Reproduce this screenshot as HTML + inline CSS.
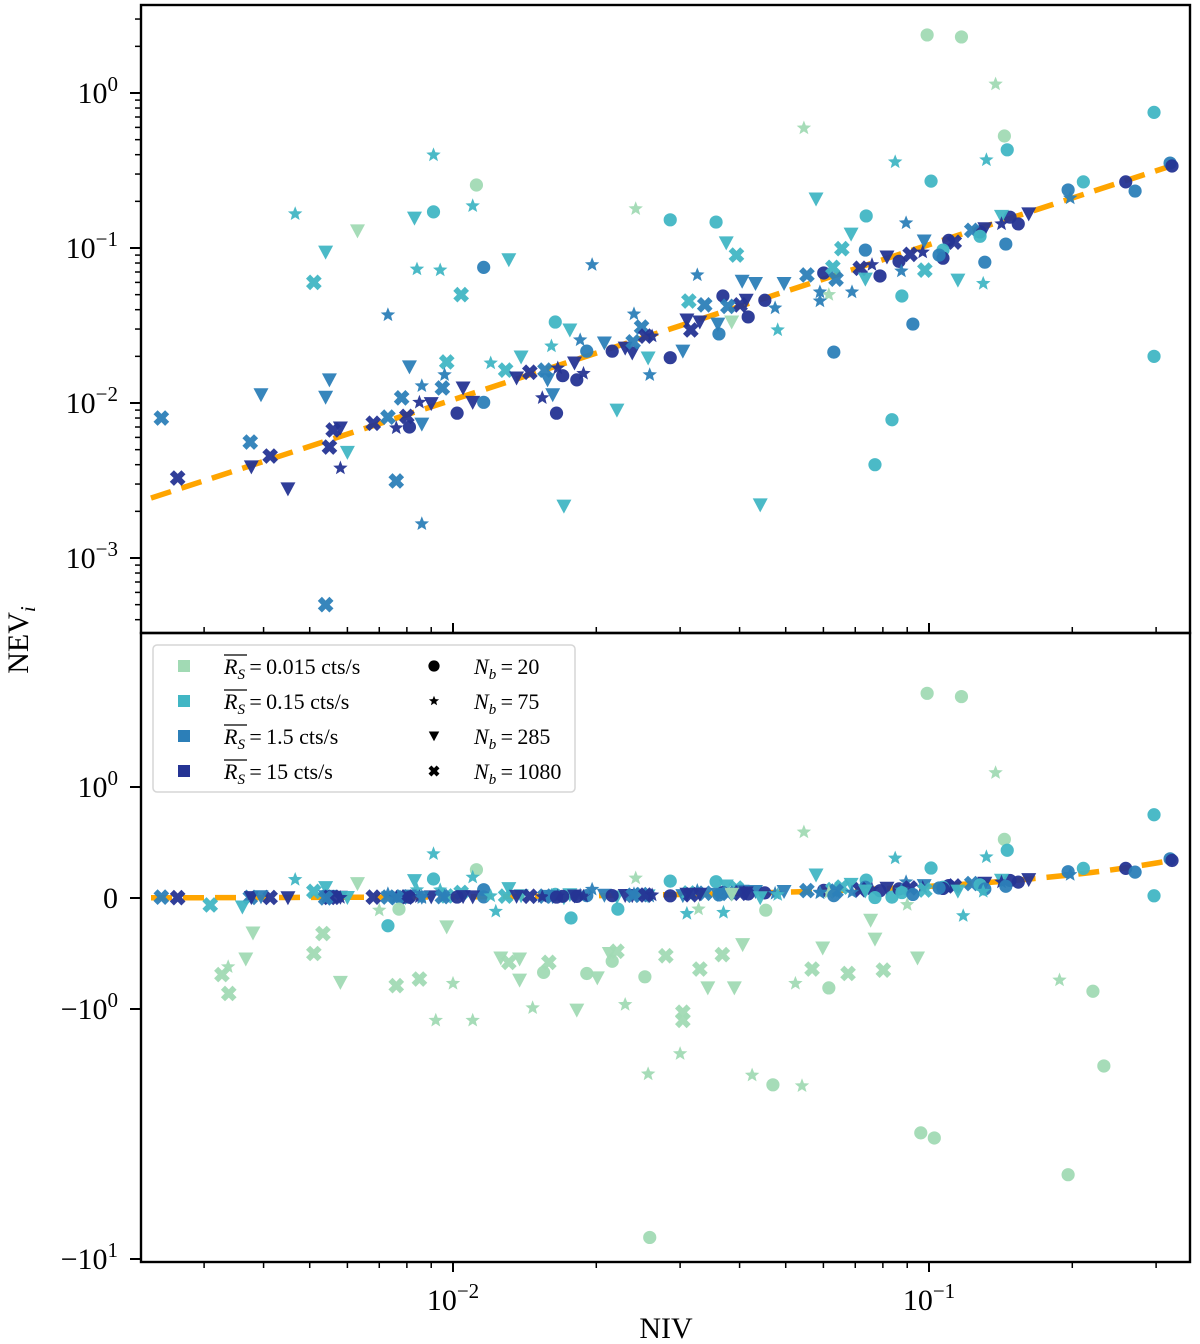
<!DOCTYPE html>
<html><head><meta charset="utf-8"><style>
html,body{margin:0;padding:0;background:#fff;}
svg{display:block;font-family:"Liberation Serif",serif;}
</style></head><body>
<svg id="chart" width="1200" height="1344" viewBox="0 0 1200 1344" xmlns="http://www.w3.org/2000/svg">
<defs>
<clipPath id="clipTop"><rect x="141" y="5" width="1049" height="628"/></clipPath>
<clipPath id="clipBot"><rect x="141" y="633" width="1049" height="629"/></clipPath>
</defs>
<g id="axesLayer"></g>
<g id="topMarks" clip-path="url(#clipTop)"></g>
<g id="botMarks" clip-path="url(#clipBot)"></g>
<g id="frameLayer"></g>
<g id="legendLayer"></g>
</svg>
<script>
// ---- data (NIV, NEV_i, source-rate index, N_b index) ----
const niv = [0.00244,0.00264,0.00375,0.00377,0.00413,0.0045,0.00395,0.00466,0.0054,0.0051,0.0063,0.0083,0.0091,0.0112,0.0110,0.0084,0.0094,0.0116,0.0131,0.0104,0.0073,0.0055,0.0054,0.0097,0.0096,0.0081,0.0086,0.0085,0.0090,0.0078,0.0095,0.0105,0.0110,0.0102,0.0116,0.0120,0.0129,0.0139,0.0073,0.0080,0.0081,0.0076,0.0086,0.0068,0.0056,0.0058,0.0055,0.0060,0.0058,0.0076,0.0086,0.0054,0.0171,0.0221,0.0161,0.0164,0.0176,0.0185,0.0191,0.0208,0.0216,0.0230,0.0238,0.0239,0.0257,0.0286,0.0304,0.0259,0.0136,0.0145,0.0156,0.0166,0.0158,0.0170,0.0182,0.0188,0.0180,0.0154,0.0162,0.0165,0.0196,0.0242,0.0286,0.0357,0.0375,0.0394,0.0579,0.0738,0.0686,0.0656,0.0735,0.0816,0.0326,0.0601,0.0789,0.0554,0.0628,0.0638,0.0717,0.0759,0.0735,0.0405,0.0432,0.0496,0.0369,0.0452,0.0417,0.0413,0.0401,0.0475,0.0616,0.0590,0.0313,0.0338,0.0378,0.0385,0.0362,0.0360,0.0481,0.0240,0.0310,0.0330,0.0316,0.0249,0.0254,0.0262,0.0442,0.0836,0.0770,0.0631,0.0991,0.117,0.138,0.0546,0.297,0.144,0.146,0.0849,0.132,0.101,0.321,0.324,0.211,0.259,0.271,0.196,0.198,0.0895,0.162,0.148,0.154,0.142,0.142,0.131,0.128,0.123,0.128,0.0977,0.110,0.113,0.107,0.107,0.105,0.0865,0.097,0.0913,0.0875,0.098,0.115,0.131,0.145,0.130,0.0689,0.059,0.0877,0.0925,0.297,0.0091,
0.00309,0.00361,0.0038,0.00367,0.00337,0.00327,0.00338,0.00533,0.0051,0.0058,0.0070,0.0077,0.0073,0.0076,0.0085,0.0097,0.0092,0.0110,0.0100,0.0123,0.0126,0.0131,0.0138,0.0138,0.0147,0.0155,0.0159,0.0177,0.0182,0.0191,0.0201,0.0230,0.0213,0.0221,0.0216,0.0222,0.0253,0.0280,0.0257,0.0259,0.0304,0.0304,0.0300,0.0330,0.0343,0.0390,0.0406,0.0368,0.0425,0.0470,0.0541,0.0524,0.0616,0.0568,0.0598,0.0676,0.0754,0.0770,0.0946,0.0802,0.0961,0.1026,0.118,0.188,0.221,0.233,0.196,0.0454,0.0328,0.090,0.031,0.037];
const nev = [0.0080,0.00328,0.0056,0.00387,0.00455,0.00279,0.0113,0.166,0.094,0.060,0.129,0.156,0.171,0.255,0.187,0.073,0.072,0.075,0.084,0.050,0.037,0.0141,0.0109,0.0184,0.0152,0.0171,0.0129,0.0101,0.0099,0.0108,0.0125,0.0125,0.0101,0.0086,0.0101,0.0181,0.0163,0.0198,0.0081,0.0082,0.0070,0.0069,0.0073,0.0074,0.0067,0.0069,0.0052,0.0048,0.0038,0.00314,0.00166,0.0005,0.00216,0.0090,0.0233,0.0333,0.0296,0.0255,0.0216,0.0244,0.0216,0.0226,0.0210,0.0248,0.0195,0.0196,0.0216,0.0152,0.0145,0.0158,0.0163,0.0168,0.0141,0.0150,0.0141,0.0155,0.0181,0.0108,0.0113,0.0086,0.078,0.179,0.152,0.147,0.108,0.090,0.207,0.161,0.123,0.099,0.097,0.0875,0.067,0.069,0.066,0.067,0.075,0.063,0.074,0.078,0.063,0.061,0.059,0.059,0.049,0.046,0.0359,0.046,0.043,0.041,0.050,0.052,0.0455,0.043,0.042,0.0333,0.0279,0.0323,0.0296,0.0375,0.0343,0.0333,0.0296,0.0309,0.027,0.027,0.0022,0.0078,0.0040,0.0213,2.37,2.30,1.14,0.594,0.75,0.528,0.43,0.359,0.37,0.27,0.353,0.338,0.267,0.267,0.233,0.237,0.21,0.145,0.166,0.158,0.143,0.16,0.143,0.133,0.127,0.13,0.119,0.111,0.112,0.109,0.097,0.086,0.090,0.082,0.094,0.091,0.071,0.072,0.062,0.081,0.106,0.059,0.052,0.0455,0.049,0.0323,0.020,0.398,
-0.063,-0.081,-0.315,-0.55,-0.62,-0.69,-0.86,-0.32,-0.50,-0.76,-0.11,-0.10,-0.25,-0.79,-0.73,-0.26,-1.11,-1.11,-0.77,-0.12,-0.54,-0.58,-0.55,-0.74,-0.99,-0.67,-0.58,-0.18,-1.01,-0.68,-0.72,-0.96,-0.50,-0.48,-0.57,-0.10,-0.71,-0.52,-1.82,-8.2,-1.03,-1.11,-1.51,-0.64,-0.81,-0.81,-0.42,-0.51,-1.84,-2.01,-2.03,-0.77,-0.81,-0.64,-0.45,-0.68,-0.20,-0.37,-0.54,-0.65,-3.13,-3.28,-0.16,-0.74,-0.84,-1.69,-4.6,-0.11,-0.10,-0.06,-0.14,-0.13];
const rateIdx = [2,3,2,3,3,3,2,1,1,1,0,1,1,0,1,1,1,2,1,1,2,2,2,1,2,2,2,3,3,2,2,3,3,3,2,1,1,1,2,3,3,3,2,3,3,3,3,1,3,2,2,2,1,1,1,1,1,2,2,2,3,3,3,2,1,3,2,2,3,3,2,3,2,3,3,3,3,3,2,3,2,0,1,1,1,1,1,1,1,1,2,3,2,3,3,2,1,2,3,3,1,2,2,2,3,3,3,3,3,2,0,2,1,2,2,0,2,2,1,2,3,3,3,2,3,3,1,1,1,2,0,0,0,0,1,0,1,1,1,1,2,3,1,3,2,2,2,2,3,3,3,1,3,3,3,2,1,2,3,3,1,3,2,3,3,3,2,1,1,2,2,1,2,2,1,2,1,1,
1,1,0,0,0,0,0,0,0,0,0,0,1,0,0,0,0,0,0,1,0,0,0,0,0,0,0,1,0,0,0,0,0,0,0,1,0,0,0,0,0,0,0,0,0,0,0,0,0,0,0,0,0,0,0,0,0,0,0,0,0,0,1,0,0,0,0,0,0,0,1,1];
const nbIdx = [3,3,3,2,3,2,2,1,2,3,2,2,0,0,1,1,1,0,2,3,1,2,2,3,1,2,1,1,2,3,3,2,2,0,0,1,3,2,3,3,0,1,2,3,3,2,3,2,1,3,1,3,2,2,1,0,2,1,0,2,0,2,2,3,2,0,2,1,2,3,3,1,2,0,0,1,2,1,2,0,1,1,0,0,2,3,2,0,2,3,0,2,1,0,0,3,3,3,3,1,2,2,2,2,0,0,0,2,3,1,1,1,3,3,3,2,0,2,1,1,2,2,3,3,3,1,2,0,0,0,0,0,1,1,0,0,0,1,1,0,0,0,0,0,0,0,1,1,2,0,0,2,1,2,0,3,0,2,0,3,0,0,0,0,1,3,1,3,2,0,0,1,1,1,0,0,0,1,
3,2,2,2,1,3,3,3,3,2,1,0,0,3,3,2,1,1,1,1,2,3,2,2,1,0,3,0,2,0,2,1,2,3,0,0,0,3,1,0,3,3,1,3,2,2,2,3,1,0,1,1,0,3,2,3,2,2,2,3,0,0,1,1,0,0,0,0,1,1,1,1];
const rateLabels = ["0.015","0.15","1.5","15"];
const nbLabels = ["20","75","285","1080"];
const fitSlope = 1.05;
const fitRange = [0.00232, 0.33];
const topTicks = [0, -1, -2, -3];
const xTicks = [-2, -1];
</script>
<script>
const NS = "http://www.w3.org/2000/svg";
const COLORS = ["#a1dab4","#41b6c4","#2c7fb8","#253494"];
const MARKER_NAMES = ["circle","star","triangle","x"];
const L = 141, R = 1190, TT = 5, MID = 633, BB = 1262;
function xs(v){ return 453 + 476*(Math.log10(v)+2); }
function yTop(v){ return 93 - 155*Math.log10(v); }
function yBot(v){
  const a = Math.abs(v);
  if (a <= 1) return 898 - 111*v;
  return 898 - Math.sign(v)*(111 + 250*Math.log10(a));
}
function mk(tag, attrs, parent){
  const e = document.createElementNS(NS, tag);
  for (const k in attrs) e.setAttribute(k, attrs[k]);
  if (parent) parent.appendChild(e);
  return e;
}
function starPts(cx, cy, ro, ri){
  let p = [];
  for (let i=0;i<10;i++){
    const r = i%2===0 ? ro : ri;
    const a = -Math.PI/2 + i*Math.PI/5;
    p.push((cx + r*Math.cos(a)).toFixed(1)+","+(cy + r*Math.sin(a)).toFixed(1));
  }
  return p.join(" ");
}
function xPath(cx, cy, s, w){
  // thick filled X: a plus rotated 45 degrees
  const pts = [[-w,-s],[w,-s],[w,-w],[s,-w],[s,w],[w,w],[w,s],[-w,s],[-w,w],[-s,w],[-s,-w],[-w,-w]];
  const r = Math.SQRT1_2;
  return "M" + pts.map(p => (cx+(p[0]-p[1])*r).toFixed(1)+","+(cy+(p[0]+p[1])*r).toFixed(1)).join("L") + "Z";
}
function drawMarker(g, type, cx, cy, color, scale){
  const s = scale || 1;
  let e;
  if (type === 0) e = mk("circle", {cx:cx, cy:cy, r:6.6*s, fill:color}, g);
  else if (type === 1) e = mk("polygon", {points: starPts(cx, cy, 7.6*s, 3.3*s), fill:color}, g);
  else if (type === 2) e = mk("polygon", {points: `${cx-7.5*s},${cy-6.5*s} ${cx+7.5*s},${cy-6.5*s} ${cx},${cy+7.5*s}`, fill:color}, g);
  else e = mk("path", {d: xPath(cx, cy, 8.2*s, 2.9*s), fill:color}, g);
  return e;
}

const axes = document.getElementById("axesLayer");
const topG = document.getElementById("topMarks");
const botG = document.getElementById("botMarks");
const frame = document.getElementById("frameLayer");
const leg = document.getElementById("legendLayer");

const fitTop = mk("line", {x1:xs(fitRange[0]), y1:yTop(fitSlope*fitRange[0]), x2:xs(fitRange[1]), y2:yTop(fitSlope*fitRange[1]), stroke:"#ffa500", "stroke-width":5.5, "stroke-dasharray":"21 11"}, topG);


let bp = [];
for (let i=0;i<=60;i++){
  const lv = Math.log10(fitRange[0]) + (Math.log10(fitRange[1])-Math.log10(fitRange[0]))*i/60;
  const v = Math.pow(10, lv);
  bp.push(xs(v).toFixed(1)+","+yBot(fitSlope*v).toFixed(1));
}
const fitBot = mk("polyline", {points: bp.join(" "), fill:"none", stroke:"#ffa500", "stroke-width":5.5, "stroke-dasharray":"21 11"}, botG);



for (let i=0;i<niv.length;i++){
  const col = COLORS[rateIdx[i]];
  const cx = xs(niv[i]);
  if (nev[i] > 0){
    const m = drawMarker(topG, nbIdx[i], cx, yTop(nev[i]), col);
    
    
    m.setAttribute('opacity', '0.95');
  }
  const mb = drawMarker(botG, nbIdx[i], cx, yBot(nev[i]), col);
  
  
  mb.setAttribute('opacity', '0.95');
}

const fTop = mk("rect", {x:L, y:TT, width:R-L, height:MID-TT, fill:"none", stroke:"#000", "stroke-width":2.4}, frame);


const fBot = mk("rect", {x:L, y:MID, width:R-L, height:BB-MID, fill:"none", stroke:"#000", "stroke-width":2.4}, frame);



function supLabel(parent, x, y, anchor, base, sup, name){
  const t = mk("text", {x:x, y:y, "text-anchor":anchor, "font-size":30, fill:"#000"}, parent);
  
  
  const a = mk("tspan", {}, t); a.textContent = base;
  if (sup !== null){
    const b = mk("tspan", {"font-size":21, dy:-12}, t); b.textContent = sup;
  }
  return t;
}

for (const d of topTicks){
  const y = yTop(Math.pow(10,d));
  const tk = mk("line", {x1:L-11, x2:L, y1:y, y2:y, stroke:"#000", "stroke-width":2}, axes);
  
  
  supLabel(axes, 118, y+10, "end", "10", d===0 ? "0" : "\u2212"+(-d), 'y-tick-label-top');
}
for (let d=-4; d<=0; d++){
  for (let m=2;m<=9;m++){
    const y = yTop(m*Math.pow(10,d));
    if (y < TT || y > MID) continue;
    const tk = mk("line", {x1:L-6, x2:L, y1:y, y2:y, stroke:"#000", "stroke-width":1.5}, axes);
    
    
  }
}
const botTickVals = [1, 0, -1, -10];
const botTickText = [["10","0"],["0",null],["\u221210","0"],["\u221210","1"]];
botTickVals.forEach((v,i)=>{
  const y = yBot(v);
  const tk = mk("line", {x1:L-11, x2:L, y1:y, y2:y, stroke:"#000", "stroke-width":2}, axes);
  
  
  supLabel(axes, 118, y+10, "end", botTickText[i][0], botTickText[i][1], 'y-tick-label-bottom');
});
for (let d=-3; d<=-1; d++){
  for (let m=1;m<=9;m++){
    const x = xs(m*Math.pow(10,d));
    if (x < L || x > R) continue;
    const len = m===1 ? 10 : 6;
    const t1 = mk("line", {x1:x, x2:x, y1:BB, y2:BB+len, stroke:"#000", "stroke-width":m===1?2:1.5}, axes);
    
    
    const t2 = mk("line", {x1:x, x2:x, y1:MID-len, y2:MID, stroke:"#000", "stroke-width":m===1?2:1.5}, axes);
    
    
  }
}
for (const d of xTicks){
  supLabel(axes, xs(Math.pow(10,d)), 1310, "middle", "10", "\u2212"+(-d), 'x-tick-label');
}
const xt = mk("text", {x:666, y:1338, "text-anchor":"middle", "font-size":30, fill:"#000"}, axes);
xt.textContent = "NIV";


const yt = mk("text", {x:0, y:0, "text-anchor":"middle", "font-size":30, fill:"#000", transform:"translate(28,640) rotate(-90)"}, axes);


const y1 = mk("tspan", {}, yt); y1.textContent = "NEV";
const y2 = mk("tspan", {"font-style":"italic", "font-size":21, dy:7}, yt); y2.textContent = "i";

const box = mk("rect", {x:153, y:645, width:422, height:147, rx:4, fill:"#fff", "fill-opacity":0.85, stroke:"#d6d6d6", "stroke-width":1.5}, leg);


const rowsY = [666, 701, 736, 771];
rateLabels.forEach((lab,i)=>{
  const y = rowsY[i];
  const sq = mk("rect", {x:178, y:y-6, width:12, height:12, fill:COLORS[i]}, leg);
  
  
  const t = mk("text", {x:224, y:y+8, "font-size":22, fill:"#000"}, leg);
  
  
  const a = mk("tspan", {"font-style":"italic"}, t); a.textContent = "R";
  const b = mk("tspan", {"font-style":"italic", "font-size":15, dy:5}, t); b.textContent = "S";
  const c = mk("tspan", {dy:-5}, t); c.textContent = "\u2009=\u2009" + lab + " cts/s";
  const ol = mk("line", {x1:224, x2:247, y1:y-11, y2:y-11, stroke:"#000", "stroke-width":1.3}, leg);
  
  
});
nbLabels.forEach((lab,i)=>{
  const y = rowsY[i];
  const m = drawMarker(leg, i, 434, y, "#000", i===0?0.85:0.7);
  
  
  const t = mk("text", {x:474, y:y+8, "font-size":22, fill:"#000"}, leg);
  
  
  const a = mk("tspan", {"font-style":"italic"}, t); a.textContent = "N";
  const b = mk("tspan", {"font-style":"italic", "font-size":15, dy:5}, t); b.textContent = "b";
  const c = mk("tspan", {dy:-5}, t); c.textContent = "\u2009=\u2009" + lab;
});
</script>
</body></html>
